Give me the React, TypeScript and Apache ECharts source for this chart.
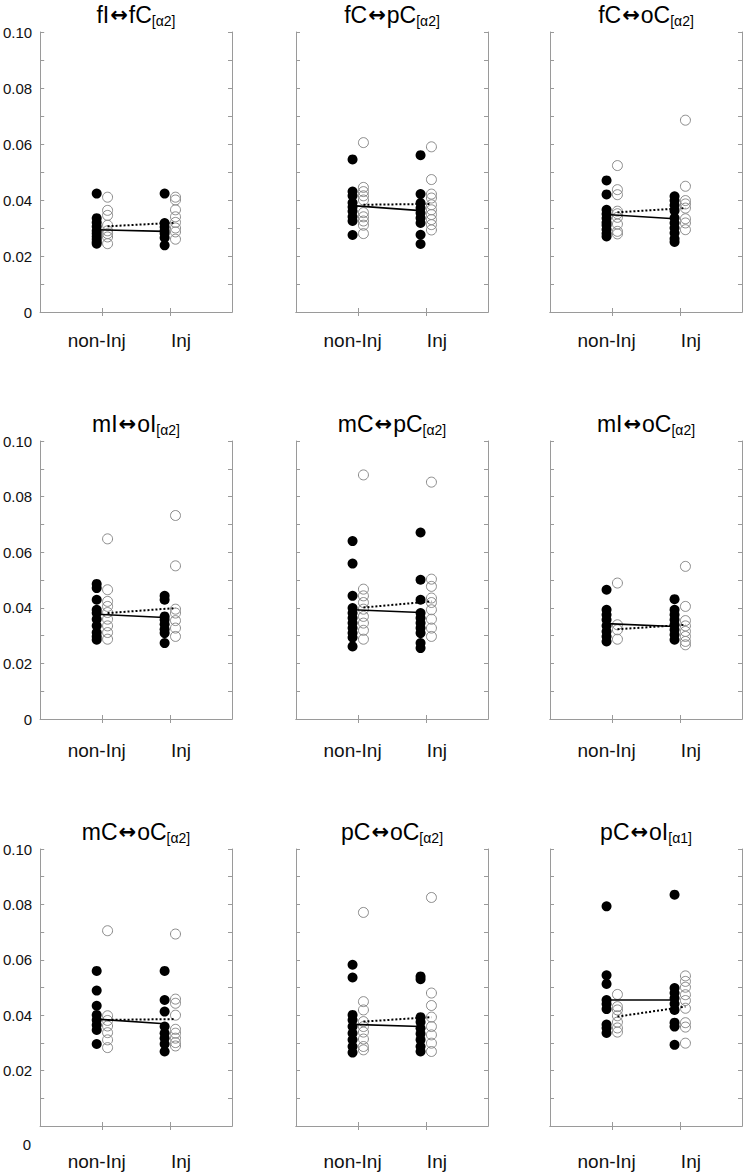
import React, { useEffect, useRef } from 'react';
import * as echarts from 'echarts';

// ---------- data ----------
const categories = ['non-Inj', 'Inj'];
const yTickStep = 0.01;

const titleParts = [
  ['fI', 'fC', 'α2'],
  ['fC', 'pC', 'α2'],
  ['fC', 'oC', 'α2'],
  ['mI', 'oI', 'α2'],
  ['mC', 'pC', 'α2'],
  ['mI', 'oC', 'α2'],
  ['mC', 'oC', 'α2'],
  ['pC', 'oC', 'α2'],
  ['pC', 'oI', 'α1'],
];

// fI <-> fC
const fIfC_nonInjFilled = [0.0423, 0.0335, 0.032, 0.0305, 0.029, 0.028, 0.027, 0.026, 0.025, 0.0244];
const fIfC_nonInjOpen = [0.041, 0.0363, 0.0345, 0.031, 0.029, 0.028, 0.0268, 0.0244];
const fIfC_injFilled = [0.0423, 0.0318, 0.0304, 0.029, 0.028, 0.0265, 0.0238];
const fIfC_injOpen = [0.041, 0.04, 0.0365, 0.034, 0.032, 0.03, 0.0286, 0.026];
const fIfC_meanFilled = [0.0294, 0.0288];
const fIfC_meanOpen = [0.0306, 0.0319];

// fC <-> pC
const fCpC_nonInjFilled = [0.0545, 0.043, 0.0415, 0.039, 0.0375, 0.036, 0.034, 0.0325, 0.0275];
const fCpC_nonInjOpen = [0.0605, 0.0445, 0.043, 0.0415, 0.04, 0.0355, 0.034, 0.0325, 0.031, 0.028];
const fCpC_injFilled = [0.056, 0.0421, 0.0389, 0.0371, 0.0354, 0.0336, 0.0318, 0.0276, 0.0243];
const fCpC_injOpen = [0.059, 0.0473, 0.0421, 0.0407, 0.0383, 0.0365, 0.0348, 0.033, 0.0312, 0.0293];
const fCpC_meanFilled = [0.038, 0.0362];
const fCpC_meanOpen = [0.0383, 0.0386];

// fC <-> oC
const fCoC_nonInjFilled = [0.047, 0.042, 0.0365, 0.035, 0.0335, 0.032, 0.031, 0.0295, 0.028, 0.027];
const fCoC_nonInjOpen = [0.0523, 0.0437, 0.0419, 0.036, 0.0351, 0.0338, 0.0314, 0.0288, 0.0279];
const fCoC_injFilled = [0.0413, 0.0398, 0.0381, 0.0362, 0.0336, 0.0318, 0.03, 0.0282, 0.0262, 0.025];
const fCoC_injOpen = [0.0685, 0.0449, 0.0398, 0.0386, 0.0371, 0.0333, 0.0318, 0.0294];
const fCoC_meanFilled = [0.0348, 0.0333];
const fCoC_meanOpen = [0.0356, 0.0371];

// mI <-> oI
const mIoI_nonInjFilled = [0.0486, 0.0471, 0.0429, 0.0393, 0.0381, 0.0359, 0.0335, 0.0311, 0.0297, 0.0285];
const mIoI_nonInjOpen = [0.0648, 0.0465, 0.0423, 0.0405, 0.0383, 0.0359, 0.0335, 0.0311, 0.0287];
const mIoI_injFilled = [0.0443, 0.0429, 0.0369, 0.0357, 0.0341, 0.0323, 0.0309, 0.0273];
const mIoI_injOpen = [0.0732, 0.0551, 0.0395, 0.0381, 0.0354, 0.0327, 0.0297];
const mIoI_meanFilled = [0.0377, 0.0365];
const mIoI_meanOpen = [0.0381, 0.0399];

// mC <-> pC
const mCpC_nonInjFilled = [0.064, 0.0559, 0.0443, 0.0399, 0.0381, 0.0363, 0.0345, 0.0327, 0.0309, 0.0293, 0.0261];
const mCpC_nonInjOpen = [0.0878, 0.0467, 0.0443, 0.0419, 0.0395, 0.0369, 0.0345, 0.0319, 0.0287];
const mCpC_injFilled = [0.0671, 0.0501, 0.0429, 0.0381, 0.0363, 0.0345, 0.0327, 0.0309, 0.0273, 0.0255];
const mCpC_injOpen = [0.0852, 0.0503, 0.0477, 0.0435, 0.0419, 0.0393, 0.0359, 0.0327, 0.0297];
const mCpC_meanFilled = [0.0393, 0.0383];
const mCpC_meanOpen = [0.0401, 0.0423];

// mI <-> oC
const mIoC_nonInjFilled = [0.0465, 0.0393, 0.0375, 0.0357, 0.0335, 0.0315, 0.0297, 0.0279];
const mIoC_nonInjOpen = [0.0489, 0.0339, 0.0321, 0.0287];
const mIoC_injFilled = [0.0431, 0.0393, 0.0375, 0.0357, 0.0339, 0.0321, 0.0303, 0.0285];
const mIoC_injOpen = [0.0549, 0.0405, 0.0354, 0.0335, 0.0315, 0.0297, 0.0279, 0.0267];
const mIoC_meanFilled = [0.0343, 0.0333];
const mIoC_meanOpen = [0.0323, 0.0339];

// mC <-> oC
const mCoC_nonInjFilled = [0.056, 0.0489, 0.0434, 0.0401, 0.0383, 0.0365, 0.0347, 0.0296];
const mCoC_nonInjOpen = [0.0705, 0.0398, 0.0381, 0.0361, 0.0337, 0.0311, 0.0283];
const mCoC_injFilled = [0.056, 0.0455, 0.0413, 0.0359, 0.0335, 0.0317, 0.0296, 0.0269];
const mCoC_injOpen = [0.0693, 0.0458, 0.0443, 0.04, 0.0349, 0.0335, 0.0317, 0.0301, 0.0289];
const mCoC_meanFilled = [0.0386, 0.0369];
const mCoC_meanOpen = [0.0383, 0.0386];

// pC <-> oC
const pCoC_nonInjFilled = [0.0582, 0.0536, 0.0401, 0.0383, 0.0359, 0.0335, 0.0311, 0.0287, 0.0265];
const pCoC_nonInjOpen = [0.0771, 0.0449, 0.0419, 0.0377, 0.0359, 0.0339, 0.0314, 0.0287, 0.0275];
const pCoC_injFilled = [0.054, 0.053, 0.0393, 0.0375, 0.0353, 0.0333, 0.0311, 0.0287, 0.0269];
const pCoC_injOpen = [0.0825, 0.048, 0.0435, 0.0393, 0.0359, 0.0329, 0.0299, 0.0269];
const pCoC_meanFilled = [0.0367, 0.0359];
const pCoC_meanOpen = [0.0377, 0.0393];

// pC <-> oI
const pCoI_nonInjFilled = [0.0793, 0.0544, 0.0513, 0.0455, 0.044, 0.0422, 0.0366, 0.0354, 0.0336];
const pCoI_nonInjOpen = [0.0475, 0.0431, 0.0419, 0.0398, 0.0375, 0.0354, 0.0339];
const pCoI_injFilled = [0.0835, 0.0498, 0.048, 0.0461, 0.0441, 0.0419, 0.0373, 0.0359, 0.0293];
const pCoI_injOpen = [0.0542, 0.0522, 0.0501, 0.0474, 0.0453, 0.0425, 0.0373, 0.0357, 0.0299];
const pCoI_meanFilled = [0.0455, 0.0455];
const pCoI_meanOpen = [0.0395, 0.0431];

const panels = [
  [fIfC_nonInjFilled, fIfC_nonInjOpen, fIfC_injFilled, fIfC_injOpen, fIfC_meanFilled, fIfC_meanOpen],
  [fCpC_nonInjFilled, fCpC_nonInjOpen, fCpC_injFilled, fCpC_injOpen, fCpC_meanFilled, fCpC_meanOpen],
  [fCoC_nonInjFilled, fCoC_nonInjOpen, fCoC_injFilled, fCoC_injOpen, fCoC_meanFilled, fCoC_meanOpen],
  [mIoI_nonInjFilled, mIoI_nonInjOpen, mIoI_injFilled, mIoI_injOpen, mIoI_meanFilled, mIoI_meanOpen],
  [mCpC_nonInjFilled, mCpC_nonInjOpen, mCpC_injFilled, mCpC_injOpen, mCpC_meanFilled, mCpC_meanOpen],
  [mIoC_nonInjFilled, mIoC_nonInjOpen, mIoC_injFilled, mIoC_injOpen, mIoC_meanFilled, mIoC_meanOpen],
  [mCoC_nonInjFilled, mCoC_nonInjOpen, mCoC_injFilled, mCoC_injOpen, mCoC_meanFilled, mCoC_meanOpen],
  [pCoC_nonInjFilled, pCoC_nonInjOpen, pCoC_injFilled, pCoC_injOpen, pCoC_meanFilled, pCoC_meanOpen],
  [pCoI_nonInjFilled, pCoI_nonInjOpen, pCoI_injFilled, pCoI_injOpen, pCoI_meanFilled, pCoI_meanOpen],
];

// ---------- layout ----------
const W = 746;
const H = 1172;
const colLeft = [40, 296, 550];
const gridW = 192;
const rowTop = [32, 441, 849];
const rowH = [280, 278, 277];
const labelMargin = [19, 22, 26];
const X_MIN = 1 - 62 / 68;
const X_MAX = 2 + 62 / 68;
const OFF = 0.08;
const FONT = '"Liberation Sans", Arial, Helvetica, sans-serif';
const AXIS_COLOR = '#9a9a9a';

function buildOption() {
  const grid: any[] = [];
  const xAxis: any[] = [];
  const yAxis: any[] = [];
  const series: any[] = [];
  const graphic: any[] = [];

  panels.forEach((p, i) => {
    const row = Math.floor(i / 3);
    const col = i % 3;
    const [nf, no, jf, jo, mf, mo] = p as number[][];
    grid.push({ left: colLeft[col], top: rowTop[row], width: gridW, height: rowH[row], containLabel: false });

    const axisLine = { show: true, lineStyle: { color: AXIS_COLOR, width: 1 } };
    const tickStyle = { color: AXIS_COLOR, width: 1 };

    xAxis.push({
      gridIndex: i, type: 'value', position: 'bottom', min: X_MIN, max: X_MAX,
      axisLine, splitLine: { show: false },
      axisTick: { show: true, inside: true, length: 4, lineStyle: tickStyle, customValues: [1, 2] },
      axisLabel: {
        show: true, customValues: [1 - OFF, 2 + 0.16], margin: labelMargin[row],
        color: '#111', fontSize: 19, fontFamily: FONT,
        formatter: (v: number) => (v < 1.5 ? categories[0] : categories[1]),
      },
    });
    xAxis.push({
      gridIndex: i, type: 'value', position: 'top', min: X_MIN, max: X_MAX,
      axisLine, splitLine: { show: false },
      axisTick: { show: true, inside: true, length: 4, lineStyle: tickStyle, customValues: [1, 2] },
      axisLabel: { show: false },
    });
    yAxis.push({
      gridIndex: i, type: 'value', position: 'left', min: 0, max: 0.1, interval: yTickStep,
      axisLine, splitLine: { show: false },
      axisTick: { show: true, inside: true, length: 4, lineStyle: tickStyle },
      axisLabel: {
        show: col === 0, margin: 8, color: '#111', fontSize: 15, fontFamily: FONT,
        formatter: (v: number) => {
          const k = Math.round(v * 100);
          if (k % 2 !== 0) return '';
          if (k === 0) return row === 2 ? '' : '0';
          return (k / 100).toFixed(2);
        },
      },
    });
    yAxis.push({
      gridIndex: i, type: 'value', position: 'right', min: 0, max: 0.1, interval: yTickStep,
      axisLine, splitLine: { show: false },
      axisTick: { show: true, inside: true, length: 4, lineStyle: tickStyle },
      axisLabel: { show: false },
    });

    const xi = 2 * i;
    const yi = 2 * i;
    series.push({
      type: 'scatter', xAxisIndex: xi, yAxisIndex: yi, silent: true, z: 2,
      symbol: 'circle', symbolSize: 10,
      itemStyle: { color: '#000', borderWidth: 0, opacity: 1 },
      data: [...nf.map((v) => [1 - OFF, v]), ...jf.map((v) => [2 - OFF, v])],
    });
    series.push({
      type: 'scatter', xAxisIndex: xi, yAxisIndex: yi, silent: true, z: 3,
      symbol: 'circle', symbolSize: 10,
      itemStyle: { color: 'rgba(255,255,255,0)', borderColor: '#8a8a8a', borderWidth: 1, opacity: 1 },
      data: [...no.map((v) => [1 + OFF, v]), ...jo.map((v) => [2 + OFF, v])],
    });
    series.push({
      type: 'line', xAxisIndex: xi, yAxisIndex: yi, silent: true, z: 4, symbol: 'none',
      lineStyle: { color: '#000', width: 1.6, type: 'solid' },
      data: [[1 - OFF, mf[0]], [2 - OFF, mf[1]]],
    });
    series.push({
      type: 'line', xAxisIndex: xi, yAxisIndex: yi, silent: true, z: 4, symbol: 'none',
      lineStyle: { color: '#000', width: 2, type: 'dotted' },
      data: [[1 + OFF, mo[0]], [2 + OFF, mo[1]]],
    });

    const t = titleParts[i];
    graphic.push({
      type: 'text', x: colLeft[col] + gridW / 2, y: rowTop[row] - 17, silent: true,
      style: {
        text: `{a|${t[0]}}{arr|↔}{a|${t[1]}}{sub|[${t[2]}]}`,
        align: 'center', verticalAlign: 'middle',
        textAlign: 'center', textVerticalAlign: 'middle',
        rich: {
          a: { fontSize: 23, fontFamily: FONT, fill: '#000', lineHeight: 26, verticalAlign: 'middle' },
          arr: { fontSize: 21, fontFamily: '"DejaVu Sans", sans-serif', fontWeight: 'bold', fill: '#000', lineHeight: 26, verticalAlign: 'middle', padding: [0, 1, 0, 1] },
          sub: { fontSize: 14, fontFamily: FONT, fill: '#000', lineHeight: 14, verticalAlign: 'bottom' },
        },
      },
    });
  });

  // the lowest panel row shows its "0" label lower than the axis line
  graphic.push({
    type: 'text', x: colLeft[0] - 9, y: 1144, silent: true,
    style: {
      text: '0', font: `15px ${FONT}`, fill: '#111',
      align: 'right', verticalAlign: 'middle', textAlign: 'right', textVerticalAlign: 'middle',
    },
  });

  return {
    animation: false,
    backgroundColor: '#fff',
    grid, xAxis, yAxis, series, graphic,
  };
}

export default function App() {
  const ref = useRef<HTMLDivElement>(null);
  useEffect(() => {
    document.body.style.margin = '0';
    if (!ref.current) return;
    const chart = echarts.init(ref.current, undefined, { renderer: 'svg' });
    chart.setOption(buildOption() as any);
    return () => chart.dispose();
  }, []);
  return <div ref={ref} style={{ width: W, height: H }} />;
}
